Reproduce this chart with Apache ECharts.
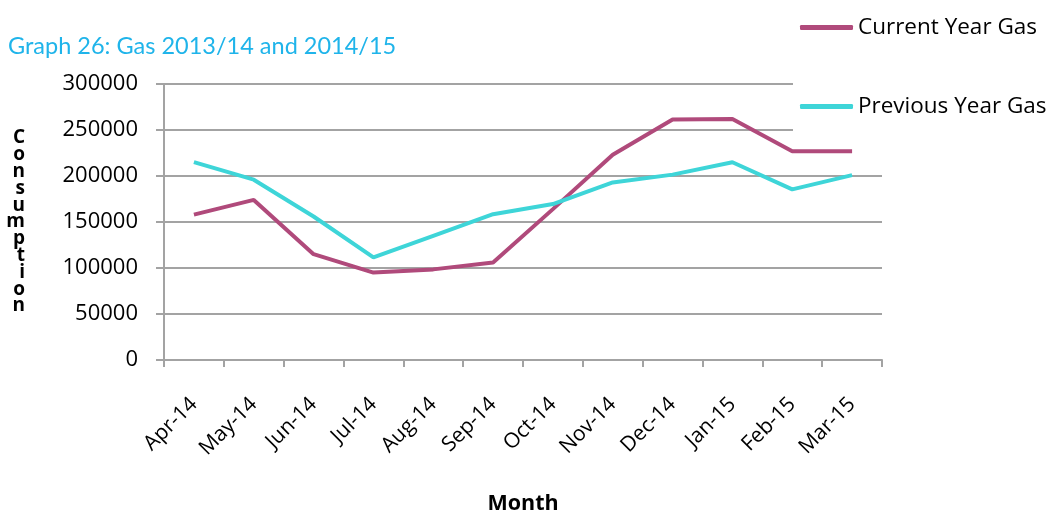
<!DOCTYPE html>
<html>
<head>
<meta charset="utf-8">
<script src="https://cdn.jsdelivr.net/npm/echarts@6/dist/echarts.min.js"></script>
<style>
  html, body { margin: 0; padding: 0; background: #fff; }
  #chart { width: 1051px; height: 514px; }
</style>
</head>
<body>
<div id="chart"></div>
<script>
  var months = ['Apr-14', 'May-14', 'Jun-14', 'Jul-14', 'Aug-14', 'Sep-14',
                'Oct-14', 'Nov-14', 'Dec-14', 'Jan-15', 'Feb-15', 'Mar-15']
  var currentYearGas = [158000, 174000, 115000, 95000, 98500, 106000,
                        164000, 223000, 261500, 262000, 227000, 227000]
  var previousYearGas = [215000, 196000, 156000, 111500, 135000, 158500,
                         169500, 193000, 201500, 215000, 185500, 201000]
  var yTicks = [0, 50000, 100000, 150000, 200000, 250000, 300000]

  var font = 'Open Sans'
  var grey = '#a3a3a3'

  var myChart = echarts.init(document.getElementById('chart'))
  var option = {
    animation: false,
    title: {
      text: 'Graph 26: Gas 2013/14 and 2014/15',
      left: 3,
      top: 29,
      textStyle: {
        fontFamily: 'Lato',
        fontWeight: 'normal',
        fontSize: 23.5,
        color: '#1fb4ea'
      }
    },
    legend: {
      orient: 'vertical',
      left: 793,
      top: 9,
      itemGap: 56,
      itemWidth: 53,
      itemHeight: 5,
      icon: 'roundRect',
      backgroundColor: '#fff',
      padding: [7, 10, 20, 7],
      z: 10,
      textStyle: { fontFamily: font, fontSize: 22.5, color: '#000' },
      data: ['Current Year Gas', 'Previous Year Gas']
    },
    grid: {
      left: 164,
      right: 169,
      top: 84,
      bottom: 154,
      outerBoundsMode: 'none',
      containLabel: false
    },
    xAxis: {
      type: 'category',
      data: months,
      boundaryGap: true,
      name: 'Month',
      nameLocation: 'middle',
      nameGap: 133,
      nameTextStyle: { fontFamily: font, fontWeight: 'bold', fontSize: 21.5, color: '#000' },
      axisLine: { lineStyle: { color: grey, width: 2 } },
      axisTick: { show: true, length: 7, alignWithLabel: false, lineStyle: { color: grey, width: 2 } },
      axisLabel: {
        rotate: 45,
        interval: 0,
        margin: 41,
        fontFamily: font,
        fontSize: 21,
        color: '#000'
      },
      splitLine: { show: false }
    },
    yAxis: {
      type: 'value',
      min: yTicks[0],
      max: yTicks[yTicks.length - 1],
      interval: 50000,
      name: 'Consumption'.split('').join('\n'),
      nameLocation: 'middle',
      nameRotate: 0,
      nameGap: 139,
      nameTextStyle: { fontFamily: font, fontWeight: 'bold', fontSize: 19, lineHeight: 16.8, color: '#000' },
      axisLine: { show: true, lineStyle: { color: grey, width: 2 } },
      axisTick: { show: true, length: 8, inside: false, lineStyle: { color: grey, width: 2 } },
      axisLabel: {
        margin: 26,
        fontFamily: font,
        fontSize: 22,
        color: '#000',
        formatter: function (v) { return String(v) }
      },
      splitLine: { show: true, lineStyle: { color: grey, width: 2 } }
    },
    series: [
      {
        name: 'Current Year Gas',
        type: 'line',
        data: currentYearGas,
        color: '#b04a7b',
        symbol: 'none',
        lineStyle: { width: 4, color: '#b04a7b' }
      },
      {
        name: 'Previous Year Gas',
        type: 'line',
        data: previousYearGas,
        color: '#3ed5d8',
        symbol: 'none',
        lineStyle: { width: 4, color: '#3ed5d8' }
      }
    ]
  }
  myChart.setOption(option)
</script>
</body>
</html>
